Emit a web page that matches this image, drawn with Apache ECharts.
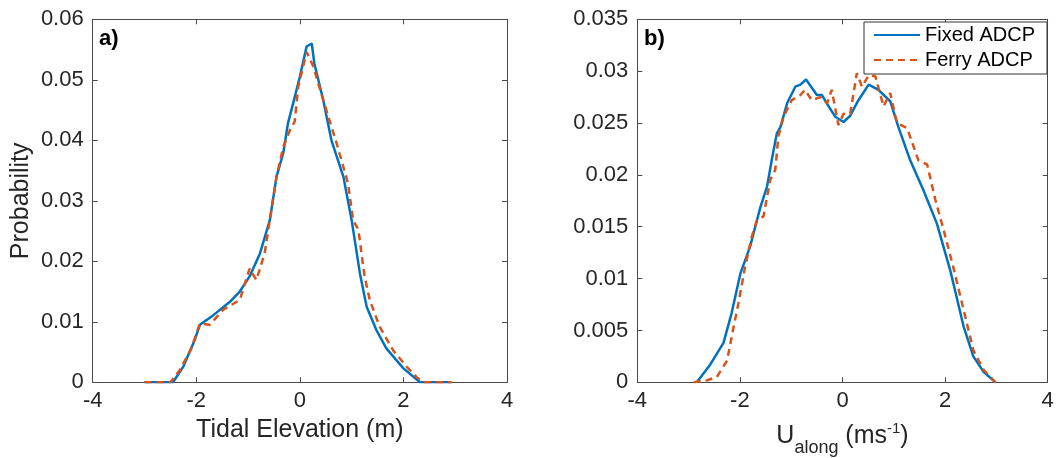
<!DOCTYPE html>
<html><head><meta charset="utf-8">
<script src="https://cdn.jsdelivr.net/npm/echarts@6/dist/echarts.min.js"></script>
<style>html,body{margin:0;padding:0;background:#fff}#c{width:1057px;height:458px}</style>
</head><body><div id="c"></div><script>
// Panel a) tidal elevation PDFs
var tideFixedX = [-3.0,-2.8,-2.6,-2.45,-2.25,-2.03,-1.93,-1.67,-1.35,-1.16,-0.97,-0.77,-0.58,-0.45,-0.32,-0.23,-0.13,0.0,0.13,0.23,0.28,0.45,0.61,0.84,1.0,1.16,1.29,1.48,1.67,2.0,2.32,2.6,2.93];
var tideFixedY = [0,0,0,0,0.0026,0.007,0.0095,0.0111,0.0133,0.015,0.0175,0.0213,0.0268,0.034,0.0379,0.0428,0.0461,0.0505,0.0555,0.056,0.0527,0.0467,0.04,0.034,0.0268,0.018,0.0125,0.0086,0.0056,0.0023,0,0,0];
var tideFerryX = [-3.0,-2.7,-2.5,-2.32,-2.1,-1.93,-1.74,-1.48,-1.16,-0.97,-0.84,-0.68,-0.55,-0.45,-0.32,-0.19,-0.10,-0.03,0.13,0.26,0.45,0.71,0.93,1.03,1.13,1.25,1.35,1.54,1.80,2.06,2.25,2.38,2.6,2.93];
var tideFerryY = [0,0,0,0.002,0.0055,0.0097,0.0095,0.012,0.0136,0.0188,0.0169,0.0213,0.0285,0.034,0.0389,0.0417,0.0431,0.0489,0.0546,0.0522,0.0467,0.0395,0.0329,0.0268,0.0252,0.0175,0.0136,0.0092,0.0053,0.0026,0.0009,0,0,0];
// Panel b) along-channel velocity PDFs
var curFixedX = [-2.84,-2.58,-2.32,-2.16,-1.99,-1.80,-1.60,-1.47,-1.38,-1.28,-1.21,-1.08,-0.92,-0.82,-0.71,-0.50,-0.40,-0.27,-0.14,0.02,0.15,0.31,0.51,0.70,0.93,1.09,1.32,1.58,1.84,2.10,2.36,2.55,2.75,2.98];
var curFixedY = [0,0.0017,0.0038,0.0067,0.0105,0.0131,0.0169,0.0189,0.0214,0.024,0.0246,0.0269,0.0285,0.0287,0.0292,0.0277,0.0277,0.0266,0.0256,0.0251,0.0257,0.0272,0.0287,0.0282,0.0271,0.0246,0.0214,0.0185,0.0153,0.0108,0.0054,0.0025,0.001,0];
var curFerryX = [-2.90,-2.64,-2.45,-2.25,-2.12,-2.03,-1.90,-1.77,-1.67,-1.54,-1.41,-1.31,-1.25,-1.15,-0.99,-0.82,-0.73,-0.60,-0.43,-0.30,-0.21,-0.08,0.02,0.15,0.28,0.38,0.51,0.64,0.80,0.93,1.06,1.26,1.48,1.65,1.81,1.97,2.16,2.36,2.55,2.75,2.98];
var curFerryY = [0,0.0002,0.0005,0.0021,0.0054,0.0076,0.0111,0.014,0.0156,0.016,0.0195,0.0205,0.0237,0.0256,0.0272,0.0277,0.0282,0.0272,0.0275,0.0269,0.0282,0.0248,0.0259,0.0259,0.0298,0.0285,0.0296,0.0295,0.0266,0.0279,0.025,0.0245,0.0214,0.021,0.0176,0.0147,0.0111,0.007,0.0031,0.0012,0];

var seriesNames = ['Fixed ADCP', 'Ferry ADCP'];
var panelLabels = ['a)', 'b)'];
var xTitleA = 'Tidal Elevation (m)';
var yTitleA = 'Probability';
var xTitleB = '{u|U}{s|along}{u| (ms}{p|-1}{u|)}';

function pairs(xs, ys) { return xs.map(function (x, i) { return [x, ys[i]]; }); }

var FONT = 'Liberation Sans, Arial, Helvetica, sans-serif';
var TXT = '#262626';
var AX = '#4a4a4a';
var BLUE = '#0072BD', RED = '#D95319';

function xAx(grid, pos, show, name, nameGap) {
  return {
    type: 'value', gridIndex: grid, position: pos, min: -4, max: 4, interval: 2,
    axisLine: { show: true, onZero: false, lineStyle: { color: AX, width: 1 } },
    axisTick: { show: true, inside: true, length: 5, lineStyle: { color: AX } },
    axisLabel: { show: show, margin: 8, fontSize: 22, color: TXT, fontFamily: FONT },
    splitLine: { show: false },
    name: name || '', nameLocation: 'middle', nameGap: nameGap || 0,
    nameTextStyle: { fontSize: 25, color: TXT, fontFamily: FONT }
  };
}
function yAx(grid, pos, show, max, interval, name) {
  return {
    type: 'value', gridIndex: grid, position: pos, min: 0, max: max, interval: interval,
    axisLine: { show: true, onZero: false, lineStyle: { color: AX, width: 1 } },
    axisTick: { show: true, inside: true, length: 5, lineStyle: { color: AX } },
    axisLabel: { show: show, margin: 9, fontSize: 22, color: TXT, fontFamily: FONT },
    splitLine: { show: false },
    name: name || '', nameLocation: 'middle', nameGap: 59,
    nameTextStyle: { fontSize: 25, color: TXT, fontFamily: FONT }
  };
}

var chart = echarts.init(document.getElementById('c'), null, { renderer: 'canvas' });
chart.setOption({
  backgroundColor: '#fff',
  animation: false,
  title: [
    { text: panelLabels[0], left: 99, top: 28, padding: 0, textStyle: { fontSize: 22, fontWeight: 'bold', color: '#000', fontFamily: FONT } },
    { text: panelLabels[1], left: 644, top: 28, padding: 0, textStyle: { fontSize: 22, fontWeight: 'bold', color: '#000', fontFamily: FONT } }
  ],
  graphic: [{
    type: 'text', x: 842.5, y: 416, z: 10,
    style: {
      text: xTitleB, align: 'center', verticalAlign: 'top',
      fill: TXT, fontSize: 25, fontFamily: FONT,
      rich: {
        u: { fontSize: 25, lineHeight: 30, fill: TXT, fontFamily: FONT },
        s: { fontSize: 18, padding: [23, 0, 0, 0], fill: TXT, fontFamily: FONT },
        p: { fontSize: 15, padding: [0, 0, 15, 0], fill: TXT, fontFamily: FONT }
      }
    }
  }],
  legend: {
    data: seriesNames, orient: 'vertical', left: 864, top: 22,
    backgroundColor: '#fff', borderColor: '#333', borderWidth: 1, borderRadius: 0,
    padding: [3, 12, 4, 9], itemGap: 5, itemWidth: 46, itemHeight: 20,
    itemStyle: { opacity: 0 },
    textStyle: { fontSize: 20, color: '#000', fontFamily: FONT }
  },
  grid: [
    { left: 92.7, top: 19.3, width: 414.3, height: 363, containLabel: false },
    { left: 637.3, top: 19.3, width: 410.4, height: 363, containLabel: false }
  ],
  xAxis: [
    xAx(0, 'bottom', true, xTitleA, 29),
    xAx(0, 'top', false),
    xAx(1, 'bottom', true),
    xAx(1, 'top', false)
  ],
  yAxis: [
    yAx(0, 'left', true, 0.06, 0.01, yTitleA),
    yAx(0, 'right', false, 0.06, 0.01),
    yAx(1, 'left', true, 0.035, 0.005),
    yAx(1, 'right', false, 0.035, 0.005)
  ],
  series: [
    { name: seriesNames[0], type: 'line', xAxisIndex: 0, yAxisIndex: 0, data: pairs(tideFixedX, tideFixedY), symbol: 'none', lineStyle: { color: BLUE, width: 2.5 }, itemStyle: { color: BLUE }, z: 3 },
    { name: seriesNames[1], type: 'line', xAxisIndex: 0, yAxisIndex: 0, data: pairs(tideFerryX, tideFerryY), symbol: 'none', lineStyle: { color: RED, width: 2.5, type: [7, 5] }, itemStyle: { color: RED }, z: 4 },
    { name: seriesNames[0], type: 'line', xAxisIndex: 2, yAxisIndex: 2, data: pairs(curFixedX, curFixedY), symbol: 'none', lineStyle: { color: BLUE, width: 2.5 }, itemStyle: { color: BLUE }, z: 3 },
    { name: seriesNames[1], type: 'line', xAxisIndex: 2, yAxisIndex: 2, data: pairs(curFerryX, curFerryY), symbol: 'none', lineStyle: { color: RED, width: 2.5, type: [7, 5] }, itemStyle: { color: RED }, z: 4 }
  ]
});
</script></body></html>
